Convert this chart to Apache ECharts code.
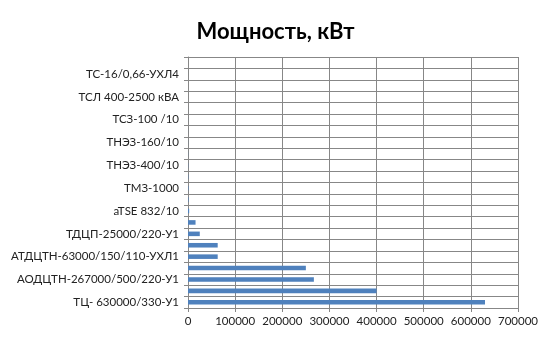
<!DOCTYPE html>
<html>
<head>
<meta charset="utf-8">
<script src="https://cdn.jsdelivr.net/npm/echarts@6/dist/echarts.min.js"></script>
<style>html,body{margin:0;padding:0;background:#fff}#c{width:551px;height:337px}</style>
</head>
<body>
<div id="c"></div>
<script>
// Categories, bottom to top (every other one is labelled on the axis)
const categories = [
  'ТЦ- 630000/330-У1', ' ',
  'АОДЦТН-267000/500/220-У1', '  ',
  'АТДЦТН-63000/150/110-УХЛ1', '   ',
  'ТДЦП-25000/220-У1', '    ',
  'aTSE 832/10', '     ',
  'ТМЗ-1000', '      ',
  'ТНЭЗ-400/10', '       ',
  'ТНЭЗ-160/10', '        ',
  'ТСЗ-100 /10', '         ',
  'ТСЛ 400-2500 кВА', '          ',
  'ТС-16/0,66-УХЛ4', '           '
];
const power = [
  630000, 400000,
  267000, 250000,
  63000, 63000,
  25000, 16000,
  2500, 1000,
  1000, 630,
  400, 250,
  160, 100,
  100, 40,
  0, 0,
  16, 0
];
const xTicks = { min: 0, max: 700000, interval: 100000 };

const chart = echarts.init(document.getElementById('c'), null, { renderer: 'canvas' });
const font = 'Lato, "Liberation Sans", sans-serif';
chart.setOption({
  animation: false,
  title: {
    text: 'Мощность, кВт',
    left: 'center',
    top: 16,
    textStyle: { fontFamily: font, fontSize: 22, fontWeight: 'bold', color: '#000' }
  },
  grid: { left: 188, right: 33, top: 57, bottom: 29, containLabel: false },
  xAxis: {
    type: 'value',
    min: xTicks.min, max: xTicks.max, interval: xTicks.interval,
    axisLine: { show: true, lineStyle: { color: '#878787', width: 1 } },
    axisTick: { show: true, length: 4, lineStyle: { color: '#878787' } },
    splitLine: { show: true, lineStyle: { color: '#878787', width: 1 } },
    axisLabel: { fontFamily: font, fontSize: 11.5, color: '#222', margin: 7,
      formatter: v => String(v) }
  },
  yAxis: {
    type: 'category',
    data: categories,
    axisLine: { show: true, lineStyle: { color: '#878787', width: 1 } },
    axisTick: { show: true, length: 4, interval: 0, alignWithLabel: false, lineStyle: { color: '#878787' } },
    splitLine: { show: true, interval: 0, lineStyle: { color: '#878787', width: 1 } },
    axisLabel: { interval: 1, fontFamily: font, fontSize: 11.5, color: '#222', margin: 9 }
  },
  series: [{
    type: 'bar',
    data: power,
    barCategoryGap: '60%',
    itemStyle: { color: '#4F81BD' }
  }]
});
</script>
</body>
</html>
